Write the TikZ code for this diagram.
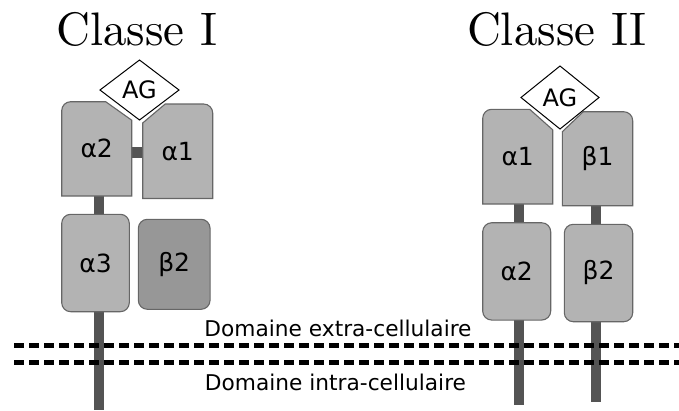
\documentclass[tikz,border=0pt]{standalone}
\usepackage{fontspec}
\newfontfamily\djv{DejaVu Sans}
\newfontfamily\lmten{lmroman10-regular.otf}
\pgfdeclarelayer{stems}
\pgfdeclarelayer{boxes}
\pgfsetlayers{stems,boxes,main}
\definecolor{boxfill}{HTML}{B3B3B3}
\definecolor{boxdark}{HTML}{979797}
\definecolor{boxline}{HTML}{666666}
\definecolor{stemcol}{HTML}{545454}
\tikzset{
  lbl/.style={font=\djv\fontsize{25}{28}\selectfont, inner sep=0pt, outer sep=0pt},
  cutarea/.style={lbl, rectangle, draw=none, minimum width=70pt, minimum height=94.3pt},
  boxshape/.style={fill=boxfill, draw=boxline, line width=1.1pt},
  roundbox/.style={lbl, rectangle, rounded corners=9pt, fill=boxfill, draw=boxline, line width=1.1pt},
  stemline/.style={draw=stemcol, line width=10pt},
  antigen/.style={inner sep=0pt, font=\djv\fontsize{24}{26}\selectfont},
  diamondline/.style={draw=black, line width=1pt, fill=white, line join=miter},
  membrane/.style={draw=black, line width=5pt, dash pattern=on 10pt off 5pt},
  titletext/.style={font=\lmten\fontsize{47}{52}\selectfont, anchor=base, inner sep=0pt},
  domaintext/.style={font=\djv\fontsize{21.7}{24}\selectfont, anchor=base, inner sep=0pt}
}
\begin{document}
\begin{tikzpicture}[x=1pt, y=-1pt]
\useasboundingbox (0,0) rectangle (679,410);

% titles
\node[titletext] (t1) at (136.7,45) {Classe I};
\node[titletext] (t2) at (556.7,45) {Classe II};

% ---------- Classe I ----------
\node[cutarea] (c1a2) at (96.7,148.85) {α2};
\node[cutarea, minimum height=94.5pt] (c1a1) at (177.7,151.25) {α1};
\node[roundbox, minimum width=67.6pt, minimum height=97.4pt] (c1a3) at (95.5,263) {α3};
\node[roundbox, fill=boxdark, minimum width=71.7pt, minimum height=90pt] (c1b2) at (174.2,264.3) {β2};

% ---------- Classe II ----------
\node[cutarea, minimum height=94.7pt] (c2a1) at (517.7,156.65) {α1};
\node[cutarea, minimum width=70.4pt, minimum height=94pt] (c2b1) at (597.5,158.7) {β1};
\node[roundbox, minimum width=68pt, minimum height=97.3pt] (c2a2) at (516.7,271.4) {α2};
\node[roundbox, minimum width=68.4pt, minimum height=97.4pt] (c2b2) at (598.5,273) {β2};

% cut-corner boxes and antigen diamonds
\begin{pgfonlayer}{boxes}
\draw[boxshape] (c1a2.south west) [rounded corners=9pt] -- (c1a2.north west) [sharp corners]
  -- ([xshift=-26pt]c1a2.north east) -- ([yshift=-18.5pt]c1a2.north east) -- (c1a2.south east) -- cycle;
\draw[boxshape] (c1a1.south east) [rounded corners=9pt] -- (c1a1.north east) [sharp corners]
  -- ([xshift=22.5pt]c1a1.north west) -- ([yshift=-19pt]c1a1.north west) -- (c1a1.south west) -- cycle;
\draw[boxshape] (c2a1.south west) [rounded corners=9pt] -- (c2a1.north west) [sharp corners]
  -- ([xshift=-23pt]c2a1.north east) -- ([yshift=-20.5pt]c2a1.north east) -- (c2a1.south east) -- cycle;
\draw[boxshape] (c2b1.south east) [rounded corners=9pt] -- (c2b1.north east) [sharp corners]
  -- ([xshift=21pt]c2b1.north west) -- ([yshift=-20pt]c2b1.north west) -- (c2b1.south west) -- cycle;
\end{pgfonlayer}

\node[antigen] (ag1) at (139.5,90) {\phantom{AG}};
\node[antigen] (ag2) at (560,97.5) {\phantom{AG}};
\begin{pgfonlayer}{boxes}
\draw[diamondline] ([xshift=-39.5pt]ag1.center) -- ([yshift=30pt]ag1.center)
  -- ([xshift=39.5pt]ag1.center) -- ([yshift=-30pt]ag1.center) -- cycle;
\draw[diamondline] ([xshift=-39pt]ag2.center) -- ([yshift=31.5pt]ag2.center)
  -- ([xshift=39pt]ag2.center) -- ([yshift=-31.5pt]ag2.center) -- cycle;
\end{pgfonlayer}
\node[antigen] at (ag1.center) {AG};
\node[antigen] at (ag2.center) {AG};

% stems
\coordinate (c1end) at (98.5,410);
\coordinate (c2aend) at (519,405);
\coordinate (c2bend) at (596,402);
\begin{pgfonlayer}{stems}
\draw[stemline] (c1a2.south -| c1end) -- (c1a3.north -| c1end);
\draw[stemline] (c1a3.south -| c1end) -- (c1end);
\draw[stemline, line width=11pt] ([yshift=-3.6pt]c1a2.east) -- ([yshift=-3.6pt]c1a2.east -| c1a1.west);
\draw[stemline] (c2a1.south -| c2aend) -- (c2a2.north -| c2aend);
\draw[stemline] (c2a2.south -| c2aend) -- (c2aend);
\draw[stemline] (c2b1.south -| c2bend) -- (c2b2.north -| c2bend);
\draw[stemline] (c2b2.south -| c2bend) -- (c2bend);
\end{pgfonlayer}

% membrane
\coordinate (m1l) at (14,345.5);
\coordinate (m1r) at (679,345.5);
\coordinate (m2l) at (14,362.5);
\coordinate (m2r) at (679,362.5);
\draw[membrane] (m1l) -- (m1r);
\draw[membrane] (m2l) -- (m2r);

\node[domaintext] (ext) at (338,336.7) {Domaine extra-cellulaire};
\node[domaintext] (int) at (335.5,390) {Domaine intra-cellulaire};
\end{tikzpicture}
\end{document}
